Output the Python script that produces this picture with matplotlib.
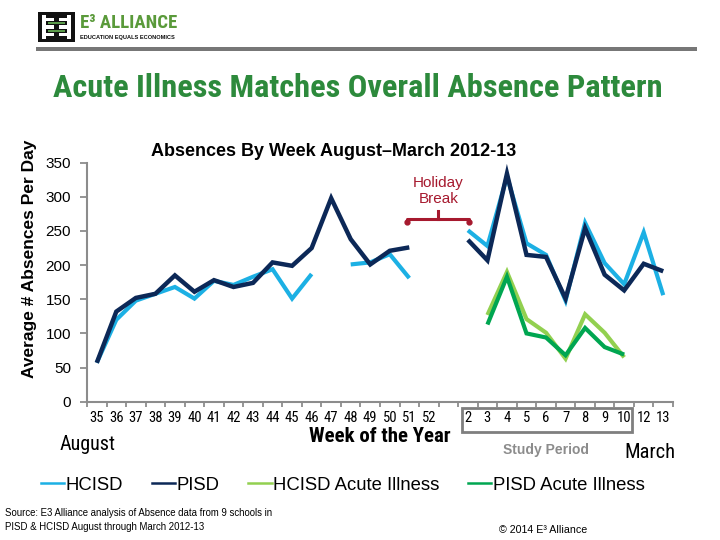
import numpy as np
import matplotlib
matplotlib.use("Agg")
import matplotlib.pyplot as plt
from matplotlib import font_manager as fm
from matplotlib.lines import Line2D
from matplotlib.patches import Rectangle
import matplotlib.transforms as mtrans

nan = np.nan

# ---------------- data ----------------
week_labels = ['35', '36', '37', '38', '39', '40', '41', '42', '43', '44', '45', '46',
               '47', '48', '49', '50', '51', '52', '', '2', '3', '4', '5', '6', '7',
               '8', '9', '10', '12', '13']

hcisd = [57, 120, 148, 158, 168, 151, 177, 171, 183, 194, 151, 187, nan, 201, 204,
         216, 181, nan, nan, 251, 228, 330, 232, 215, 148, 262, 203, 172, 248, 156]
pisd = [57, 132, 152, 158, 185, 161, 178, 168, 174, 204, 199, 225, 298, 238, 201,
        221, 226, nan, nan, 237, 207, 334, 215, 212, 151, 254, 186, 163, 202, 191]
hcisd_acute = [nan] * 20 + [127, 190, 121, 101, 63, 128, 101, 65] + [nan, nan]
pisd_acute = [nan] * 20 + [113, 183, 100, 94, 68, 108, 80, 69] + [nan, nan]

series_names = ['HCISD', 'PISD', 'HCISD Acute Illness', 'PISD Acute Illness']
series_colors = ['#1cb0e4', '#0c2857', '#92d050', '#00a651']
y_ticks = [0, 50, 100, 150, 200, 250, 300, 350]

# ---------------- fonts ----------------
names = {f.name for f in fm.fontManager.ttflist}
REG = 'Liberation Sans' if 'Liberation Sans' in names else 'DejaVu Sans'
NARROW = next((n for n in ['Liberation Sans Narrow', 'DejaVu Sans Condensed',
                           'Roboto Condensed', 'Open Sans Condensed'] if n in names), REG)
plt.rcParams['font.family'] = [REG, 'DejaVu Sans']

W, H = 720, 540
fig = plt.figure(figsize=(7.2, 5.4), dpi=100)


def P(x, y):
    return (x / W, 1 - y / H)


# ---------------- axes ----------------
ax = fig.add_axes([87 / W, 1 - 401.7 / H, 586 / W, 239 / H])
x = np.arange(len(week_labels))
for vals, c, lw in zip([hcisd, pisd, hcisd_acute, pisd_acute], series_colors,
                       [3.0, 3.2, 3.0, 3.0]):
    ax.plot(x, vals, color=c, lw=lw, solid_joinstyle='miter', solid_capstyle='butt')

ax.set_xlim(-0.5, len(week_labels) - 0.5)
ax.set_ylim(0, 350)
for s in ['top', 'right']:
    ax.spines[s].set_visible(False)
for s in ['left', 'bottom']:
    ax.spines[s].set_color('#8c8c8c')
    ax.spines[s].set_linewidth(1.5)

ax.set_yticks(y_ticks)
ax.set_yticklabels([str(v) for v in y_ticks], fontsize=11, family=[REG, 'DejaVu Sans'])
ax.tick_params(axis='y', direction='out', length=5, width=1.3, color='#8c8c8c', pad=6.5)

ax.set_xticks(np.arange(-0.5, len(week_labels), 1.0))
ax.set_xticklabels([])
ax.set_xticks(x, minor=True)
ax.set_xticklabels(week_labels, minor=True, fontsize=10.5, family=[NARROW, 'DejaVu Sans'])
ax.tick_params(axis='x', which='major', direction='out', length=3.5, width=1.3, color='#8c8c8c')
ax.tick_params(axis='x', which='minor', length=0, pad=7)

# study period box
blend = mtrans.blended_transform_factory(ax.transData, ax.transAxes)
ax.add_patch(Rectangle((18.68, -0.128), 27.39 - 18.68, 0.103, transform=blend,
                       fill=False, edgecolor='#7f7f7f', lw=2, clip_on=False))

# holiday bracket
red = '#a6192e'
ax.plot([15.87, 15.87, 19.07, 19.07], [263.5, 268, 268, 263.5], color=red, lw=2.2,
        clip_on=False, solid_capstyle='round')
ax.plot([15.87, 19.07], [263.5, 263.5], 'o', color=red, ms=3.5, clip_on=False)
ax.plot([17.49, 17.49], [268, 279], color=red, lw=2.2, clip_on=False)
ax.text(17.49, 308, 'Holiday\nBreak', color=red, fontsize=11, ha='center', va='center',
        linespacing=1.2)

# ---------------- texts ----------------
fig.text(*P(334, 151), 'Absences By Week August\u2013March 2012-13', fontsize=13,
         fontweight='bold', ha='center', va='center')
fig.text(*P(30, 259), 'Average # Absences Per Day', fontsize=12.5, fontweight='bold',
         rotation=90, ha='center', va='center')
fig.text(*P(358, 88), 'Acute Illness Matches Overall Absence Pattern', fontsize=23.3,
         fontweight='bold', color='#2d8a3c', ha='center', va='center',
         family=[NARROW, 'DejaVu Sans'])
fig.text(*P(88, 444), 'August', fontsize=14.5, ha='center', va='center',
         family=[NARROW, 'DejaVu Sans'])
fig.text(*P(380, 437), 'Week of the Year', fontsize=15, fontweight='bold', ha='center',
         va='center', family=[NARROW, 'DejaVu Sans'])
fig.text(*P(546, 450), 'Study Period', fontsize=10, fontweight='bold', color='#8c8c8c',
         ha='center', va='center')
fig.text(*P(650, 453), 'March', fontsize=14.8, ha='center', va='center',
         family=[NARROW, 'DejaVu Sans'])

# legend
handles = [Line2D([], [], color=c, lw=1.8) for c in series_colors]
fig.legend(handles, series_names, loc='center', bbox_to_anchor=P(343, 485), ncol=4,
           frameon=False, fontsize=13.3, handlelength=1.25, handletextpad=0.1,
           columnspacing=1.55, borderaxespad=0)

# source + copyright
fig.text(*P(5, 513), 'Source: E3 Alliance analysis of Absence data from 9 schools in',
         fontsize=6.9, ha='left', va='center')
fig.text(*P(5, 527), 'PISD & HCISD August through March 2012-13', fontsize=6.9,
         ha='left', va='center')
fig.text(*P(543, 530), '\u00a9 2014 E\u00b3 Alliance', fontsize=7.7, ha='center',
         va='center')

# ---------------- logo / header ----------------
def frect(x0, y0, x1, y1, color):
    fig.patches.append(Rectangle(P(x0, y1), (x1 - x0) / W, (y1 - y0) / H,
                                 transform=fig.transFigure, color=color, lw=0))

frect(36, 47, 697, 51, '#777777')
frect(38, 12, 75, 42, '#111111')
frect(42, 15, 71, 39, '#ffffff')
frect(46, 15, 67, 18, '#111111')
frect(46, 36, 67, 39, '#111111')
frect(54, 18, 59, 36, '#111111')
frect(46, 21, 67, 25, '#111111')
frect(46, 29, 67, 33, '#111111')
frect(48, 22, 65, 24, '#5a9a4a')
frect(48, 30, 65, 32, '#5a9a4a')
fig.text(*P(80, 23), 'E\u00b3 ALLIANCE', fontsize=13.5, fontweight='bold', color='#5a9a3a',
         ha='left', va='center', family=[NARROW, 'DejaVu Sans'])
fig.text(*P(80, 37), 'EDUCATION EQUALS ECONOMICS', fontsize=4.1, fontweight='bold',
         color='#111111', ha='left', va='center')

fig.savefig('out.png', dpi=100)
